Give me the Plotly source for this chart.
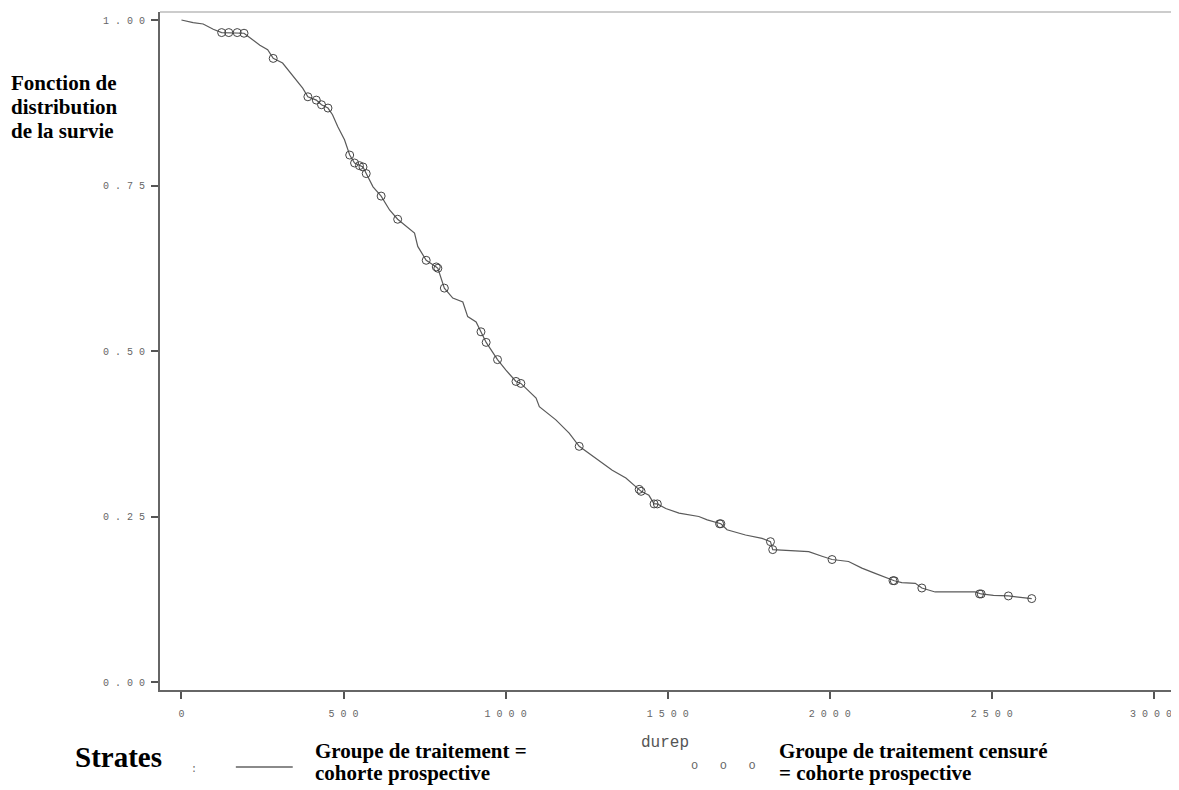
import plotly.graph_objects as go

# Kaplan-Meier curve (durep in days, survival)
time = [0, 36, 67, 98, 124, 146, 172, 193, 201, 242, 266, 283, 312, 334, 355, 374,
        390, 416, 432, 452, 466, 482, 503, 519, 534, 549, 560, 570, 591, 616, 642,
        667, 688, 719, 729, 755, 786, 791, 811, 837, 868, 883, 909, 924, 940, 975,
        1001, 1032, 1047, 1094, 1104, 1155, 1196, 1227, 1258, 1329, 1371, 1412, 1418,
        1442, 1458, 1468, 1494, 1535, 1596, 1622, 1660, 1664, 1683, 1740, 1791, 1817,
        1824, 1853, 1935, 1976, 2007, 2058, 2099, 2140, 2195, 2199, 2222, 2264, 2284,
        2325, 2448, 2462, 2467, 2505, 2551, 2623]
survival = [1.000, 0.996, 0.994, 0.986, 0.981, 0.981, 0.981, 0.980, 0.977, 0.962, 0.955,
            0.942, 0.935, 0.922, 0.909, 0.897, 0.884, 0.879, 0.872, 0.867, 0.857, 0.839,
            0.819, 0.796, 0.784, 0.780, 0.778, 0.768, 0.748, 0.734, 0.713, 0.699, 0.690,
            0.678, 0.658, 0.637, 0.627, 0.625, 0.595, 0.580, 0.574, 0.552, 0.544, 0.529,
            0.513, 0.487, 0.471, 0.454, 0.451, 0.429, 0.416, 0.396, 0.376, 0.356, 0.345,
            0.320, 0.308, 0.291, 0.288, 0.282, 0.269, 0.269, 0.262, 0.255, 0.250, 0.245,
            0.239, 0.239, 0.230, 0.222, 0.217, 0.212, 0.200, 0.199, 0.197, 0.190, 0.185,
            0.182, 0.172, 0.164, 0.153, 0.153, 0.150, 0.149, 0.142, 0.136, 0.136, 0.133,
            0.133, 0.131, 0.130, 0.126]

# Censored observations
cens_time = [124, 146, 172, 193, 283, 390, 416, 432, 452, 519, 534, 549, 560, 570, 616,
             667, 755, 786, 791, 811, 924, 940, 975, 1032, 1047, 1227, 1412, 1418, 1458,
             1468, 1660, 1664, 1817, 1824, 2007, 2195, 2199, 2284, 2462, 2467, 2551, 2623]
cens_surv = [0.981, 0.981, 0.981, 0.980, 0.942, 0.884, 0.879, 0.872, 0.867, 0.796, 0.784,
             0.780, 0.778, 0.768, 0.734, 0.699, 0.637, 0.627, 0.625, 0.595, 0.529, 0.513,
             0.487, 0.454, 0.451, 0.356, 0.291, 0.288, 0.269, 0.269, 0.239, 0.239, 0.212,
             0.200, 0.185, 0.153, 0.153, 0.142, 0.133, 0.133, 0.130, 0.126]

x_ticks = [0, 500, 1000, 1500, 2000, 2500, 3000]
x_ticktext = ["0", "5 0 0", "1 0 0 0", "1 5 0 0", "2 0 0 0", "2 5 0 0", "3 0 0 0\u00a0"]
y_ticks = [0.0, 0.25, 0.5, 0.75, 1.0]
y_ticktext = ["0 . 0 0", "0 . 2 5", "0 . 5 0", "0 . 7 5", "1 . 0 0"]

x_title = "durep"
y_title_lines = ["Fonction de", "distribution", "de la survie"]
legend_title = "Strates"
legend_line_label = ["Groupe de traitement =", "cohorte prospective"]
legend_cens_label = ["Groupe de traitement censuré", "= cohorte prospective"]

# page body has an 8px margin: compensate so the plot lands where the reference has it
OFF = 8
W, H = 1179 - OFF, 790 - OFF
PX0, PX1, PY0, PY1 = 160, 1178, 12, 690  # plot area in screen pixels
L, T = PX0 - OFF, PY0 - OFF
R = W - (PX1 - OFF)
B = H - (PY1 - OFF)
PW, PH = PX1 - PX0, PY1 - PY0


def px(x):
    return (x - PX0) / PW


def py(y):
    return (PY1 - y) / PH


mono = "Liberation Mono, DejaVu Sans Mono, monospace"
serif = "Liberation Serif, Times New Roman, serif"

fig = go.Figure()
fig.add_trace(go.Scatter(x=time, y=survival, mode="lines",
                         line=dict(color="#5a5a5a", width=1.2),
                         showlegend=False, hoverinfo="skip"))
fig.add_trace(go.Scatter(x=cens_time, y=cens_surv, mode="markers",
                         marker=dict(symbol="circle-open", size=8,
                                     color="#444444", line=dict(width=1)),
                         showlegend=False, hoverinfo="skip"))

annotations = []
for txt, yc in zip(y_title_lines, [83, 107, 131]):
    annotations.append(dict(text="<b>%s</b>" % txt, x=px(9), y=py(yc), xref="paper",
                            yref="paper", xanchor="left", yanchor="middle",
                            showarrow=False, font=dict(family=serif, size=21, color="black")))
annotations.append(dict(text="<b>%s</b>" % legend_title, x=px(73), y=py(757), xref="paper",
                        yref="paper", xanchor="left", yanchor="middle", showarrow=False,
                        font=dict(family=serif, size=29, color="black")))
annotations.append(dict(text=":", x=px(194), y=py(769), xref="paper", yref="paper",
                        xanchor="center", yanchor="middle", showarrow=False,
                        font=dict(family=mono, size=10, color="#666666")))
for txt, yc in zip(legend_line_label, [751, 773]):
    annotations.append(dict(text="<b>%s</b>" % txt, x=px(313), y=py(yc), xref="paper",
                            yref="paper", xanchor="left", yanchor="middle",
                            showarrow=False, font=dict(family=serif, size=21, color="black")))
for txt, yc in zip(legend_cens_label, [751, 773]):
    annotations.append(dict(text="<b>%s</b>" % txt, x=px(778), y=py(yc), xref="paper",
                            yref="paper", xanchor="left", yanchor="middle",
                            showarrow=False, font=dict(family=serif, size=21, color="black")))
annotations.append(dict(text=x_title, x=px(666), y=py(743), xref="paper", yref="paper",
                        xanchor="center", yanchor="middle", showarrow=False,
                        font=dict(family=mono, size=16, color="#555555")))
annotations.append(dict(text="o   o   o", x=px(725), y=py(766), xref="paper", yref="paper",
                        xanchor="center", yanchor="middle", showarrow=False,
                        font=dict(family=mono, size=12, color="#666666")))

shapes = [
    dict(type="line", xref="paper", yref="paper", x0=0, x1=1, y0=1, y1=1,
         line=dict(color="#bbbbbb", width=1.5)),
    dict(type="line", xref="paper", yref="paper", x0=1, x1=1, y0=0, y1=1,
         line=dict(color="#bbbbbb", width=1.5)),
    dict(type="line", xref="paper", yref="paper", x0=px(236), x1=px(293),
         y0=py(767), y1=py(767), line=dict(color="#8a8a8a", width=2)),
]

fig.update_layout(
    width=W, height=H,
    margin=dict(l=L, r=R, t=T, b=B, pad=0),
    paper_bgcolor="white", plot_bgcolor="white",
    annotations=annotations, shapes=shapes,
    xaxis=dict(range=[(PX0 - 181.5) / 0.3248, (PX1 - 181.5) / 0.3248],
               tickvals=x_ticks, ticktext=x_ticktext, ticks="outside", ticklen=7,
               tickwidth=1.5, tickcolor="#555555", showline=True, linecolor="#666666",
               linewidth=2, showgrid=False, zeroline=False, ticklabelstandoff=6,
               ticklabeloverflow="allow",
               tickfont=dict(family=mono, size=10, color="#666666")),
    yaxis=dict(range=[(682 - PY1) / 662, (682 - PY0) / 662],
               tickvals=y_ticks, ticktext=y_ticktext, ticks="outside", ticklen=7,
               tickwidth=1.5, tickcolor="#555555", showline=True, linecolor="#666666",
               linewidth=2, showgrid=False, zeroline=False, ticklabelstandoff=4,
               ticklabeloverflow="allow",
               tickfont=dict(family=mono, size=10, color="#666666")),
)

fig.write_html("out.html")
